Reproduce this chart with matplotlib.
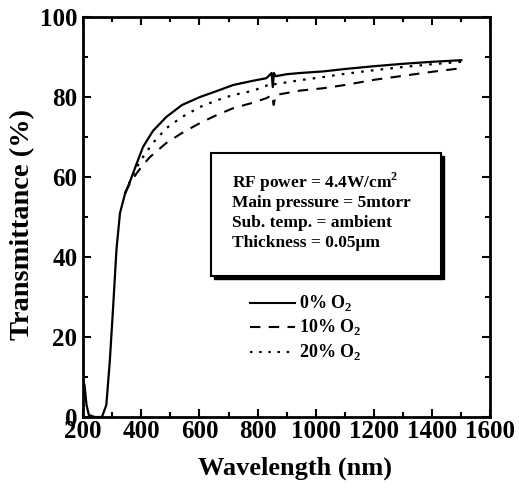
import numpy as np
import matplotlib.pyplot as plt
from matplotlib.patches import Rectangle
from matplotlib.ticker import MultipleLocator

plt.rcParams['font.family'] = ['Liberation Serif', 'DejaVu Serif']
plt.rcParams['font.weight'] = 'bold'
plt.rcParams['mathtext.fontset'] = 'custom'
plt.rcParams['mathtext.bf'] = 'Liberation Serif:bold'
plt.rcParams['mathtext.rm'] = 'Liberation Serif:bold'

# wavelength (nm) and transmittance (%)
wl_0 = [200, 205, 212, 220, 240, 265, 280, 292, 303, 315, 327, 345, 362, 385, 406,
        440, 486, 540, 602, 660, 716, 780, 830, 848, 852, 856, 862, 900, 946,
        1026, 1100, 1200, 1300, 1400, 1500]
t_0 = [9, 8, 3, 0.5, 0, 0, 3, 14, 27, 42, 51, 56, 59, 63.5, 67.5,
       71.5, 75, 78, 80, 81.5, 83, 84, 84.7, 86, 82.5, 86, 85.2, 85.7, 86,
       86.4, 87, 87.7, 88.3, 88.8, 89.2]

wl_10 = [345, 362, 385, 406, 430, 486, 540, 602, 660, 716, 780, 830, 850, 855,
         862, 946, 1026, 1100, 1200, 1300, 1400, 1500]
t_10 = [56, 58.5, 61, 63, 65, 68.5, 71, 73.5, 75.5, 77.2, 78.5, 79.7, 80.5, 78,
        80.5, 81.6, 82.2, 83, 84.3, 85.3, 86.3, 87.2]

wl_20 = [345, 362, 385, 406, 440, 486, 540, 602, 660, 716, 780, 820, 850, 860,
         946, 1026, 1100, 1200, 1300, 1400, 1500]
t_20 = [56, 59, 62.5, 65, 68.5, 72.2, 75, 77.5, 79.2, 80.5, 81.5, 82.5, 83.5, 83.2,
        84.2, 85, 85.8, 86.7, 87.5, 88.2, 88.8]

info = ['RF power = 4.4W/cm$^{\\mathbf{2}}$', 'Main pressure = 5mtorr',
        'Sub. temp. = ambient', 'Thickness = 0.05\u03bcm']
legend_labels = ['0% O$_\\mathbf{2}$', '10% O$_\\mathbf{2}$', '20% O$_\\mathbf{2}$']

fig = plt.figure(figsize=(5.19, 5.0), dpi=100)
ax = fig.add_axes([0.16, 0.166, 0.785, 0.8])

dash = (0, (5, 4))
dot = (0, (1.2, 3.2))
ax.plot(wl_0, t_0, color='black', lw=1.6, ls='-')
ax.plot(wl_10, t_10, color='black', lw=1.5, ls=dash)
ax.plot(wl_20, t_20, color='black', lw=1.6, ls=dot)

ax.set_xlim(200, 1600)
ax.set_ylim(0, 100)
ax.xaxis.set_major_locator(MultipleLocator(200))
ax.xaxis.set_minor_locator(MultipleLocator(100))
ax.yaxis.set_major_locator(MultipleLocator(20))
ax.yaxis.set_minor_locator(MultipleLocator(10))
ax.tick_params(which='both', direction='in', top=True, right=True, width=1.5)
ax.tick_params(which='major', length=6, labelsize=18, pad=2)
ax.tick_params(axis='y', which='major', pad=4)
ax.tick_params(which='minor', length=3.5)
for s in ax.spines.values():
    s.set_linewidth(2)
for lab in ax.get_xticklabels() + ax.get_yticklabels():
    lab.set_fontweight('bold')

ax.set_xlabel('Wavelength (nm)', fontsize=19, fontweight='bold')
ax.xaxis.set_label_coords(0.52, -0.1)
ax.set_ylabel('Transmittance (%)', fontsize=20.5, fontweight='bold')
ax.yaxis.set_label_coords(-0.117, 0.48)

# info box with shadow
ax.add_patch(Rectangle((650, 34.6), 790, 30.7, facecolor='black',
                       edgecolor='black', zorder=3))
ax.add_patch(Rectangle((640, 35.3), 790, 30.7, facecolor='white',
                       edgecolor='black', lw=1.5, zorder=4))
for i, line in enumerate(info):
    ax.text(712, 58.7 - i * 5.1, line, fontsize=12.5, fontweight='bold',
            va='center', ha='left', zorder=5)

for i, (lab, st) in enumerate(zip(legend_labels, ['-', dash, dot])):
    y = 28.5 - i * 6.1
    ax.plot([775, 930], [y, y], color='black', lw=1.5, ls=st)
    ax.text(942, y, lab, fontsize=13, fontweight='bold', va='center', ha='left')

fig.savefig('out.png', dpi=100)
